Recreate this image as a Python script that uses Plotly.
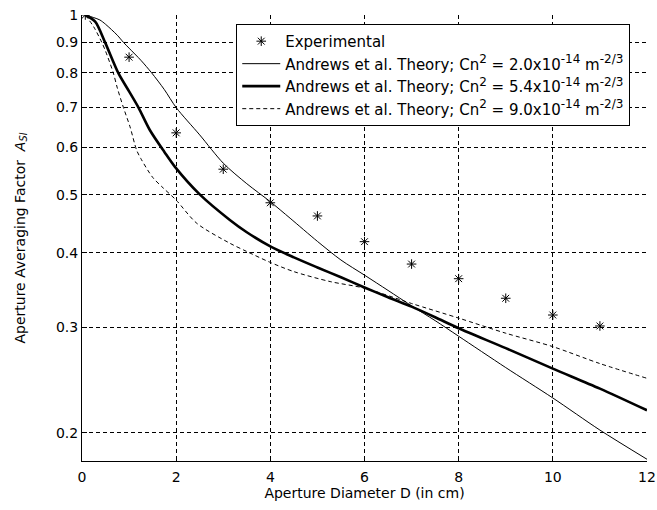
import plotly.graph_objects as go

# Experimental data
exp_x = [0.07, 1, 2, 3, 4, 5, 6, 7, 8, 9, 10, 11]
exp_y = [1.0, 0.850, 0.635, 0.552, 0.485, 0.461, 0.4175, 0.383, 0.362, 0.3357, 0.3147, 0.3017]

# Theory Cn2 = 2.0e-14
t1_x = [0.07, 0.25, 0.38, 0.5, 0.75, 0.88, 1.0, 1.25, 1.48, 1.75, 2.0, 2.5, 3.0, 3.5, 4.0, 4.42, 5.0, 5.5, 6.0, 6.5, 7.0, 7.5, 8.0, 9.0, 10.0, 11.0, 12.0]
t1_y = [1.0, 0.99, 0.981, 0.965, 0.925, 0.90, 0.88, 0.84, 0.80, 0.75, 0.70, 0.63, 0.565, 0.522, 0.487, 0.457, 0.418, 0.389, 0.367, 0.346, 0.326, 0.308, 0.290, 0.257, 0.2286, 0.202, 0.1805]

# Theory Cn2 = 5.4e-14
t2_x = [0.07, 0.28, 0.49, 0.77, 1.0, 1.2, 1.44, 1.75, 1.975, 2.5, 3.14, 3.5, 4.0, 4.5, 5.0, 5.5, 6.0, 6.5, 7.0, 7.5, 8.0, 9.0, 10.0, 11.0, 12.0]
t2_y = [1.0, 0.975, 0.90, 0.80, 0.745, 0.70, 0.642, 0.59, 0.557, 0.501, 0.454, 0.433, 0.41, 0.393, 0.378, 0.364, 0.350, 0.337, 0.325, 0.312, 0.299, 0.277, 0.256, 0.237, 0.218]

# Theory Cn2 = 9.0e-14
t3_x = [0.07, 0.25, 0.42, 0.5, 0.665, 0.75, 0.88, 1.02, 1.16, 1.25, 1.5, 1.73, 2.0, 2.44, 3.14, 3.5, 3.98, 4.5, 5.27, 6.0, 7.0, 8.0, 9.0, 10.0, 11.0, 12.0]
t3_y = [1.0, 0.955, 0.90, 0.87, 0.80, 0.755, 0.70, 0.65, 0.594, 0.575, 0.535, 0.513, 0.49, 0.448, 0.415, 0.402, 0.386, 0.372, 0.358, 0.349, 0.329, 0.311, 0.2934, 0.2786, 0.261, 0.2466]

y_ticks = [0.2, 0.3, 0.4, 0.5, 0.6, 0.7, 0.8, 0.9, 1]
y_labels = ["0.2", "0.3", "0.4", "0.5", "0.6", "0.7", "0.8", "0.9", "1"]
x_ticks = [0, 2, 4, 6, 8, 10, 12]

FONT = "DejaVu Sans"
SUP = '<sup><span style="font-size:12px">%s</span></sup>'


def theory_name(val):
    return ("Andrews et al. Theory; Cn" + SUP % "2" + " = " + val + "x10" + SUP % "-14"
            + " m" + SUP % "-2/3")


fig = go.Figure()
fig.add_trace(go.Scatter(
    x=exp_x, y=exp_y, mode="markers", name="Experimental",
    marker=dict(symbol="asterisk-open", size=8, color="black",
                line=dict(color="black", width=1))))
fig.add_trace(go.Scatter(
    x=t1_x, y=t1_y, mode="lines", line_shape="spline", name=theory_name("2.0"),
    line=dict(color="black", width=1, smoothing=0.8)))
fig.add_trace(go.Scatter(
    x=t2_x, y=t2_y, mode="lines", line_shape="spline", name=theory_name("5.4"),
    line=dict(color="black", width=2.6, smoothing=0.8)))
fig.add_trace(go.Scatter(
    x=t3_x, y=t3_y, mode="lines", line_shape="spline", name=theory_name("9.0"),
    line=dict(color="black", width=1, dash="4px,3px", smoothing=0.8)))

fig.update_layout(
    width=657, height=510,
    margin=dict(l=82, r=10, t=15, b=49, autoexpand=False),
    paper_bgcolor="white", plot_bgcolor="white",
    font=dict(family=FONT, size=14, color="black"),
    showlegend=True,
    legend=dict(x=0.273, y=0.98, xanchor="left", yanchor="top",
                bgcolor="white", bordercolor="black", borderwidth=1,
                font=dict(family=FONT, size=15, color="black"),
                itemwidth=38, tracegroupgap=0),
    xaxis=dict(range=[0, 12], tickvals=x_ticks, showline=True, linecolor="black",
               linewidth=1, ticks="inside", ticklen=5, tickcolor="black",
               showgrid=True, gridcolor="black", gridwidth=1, griddash="4px,3px",
               zeroline=False, tickfont=dict(size=14), automargin=True,
               ticklabelstandoff=3,
               title=dict(text="Aperture Diameter D (in cm)", font=dict(size=14),
                          standoff=4)),
    yaxis=dict(type="log", range=[-0.7464, 0], tickvals=y_ticks, ticktext=y_labels,
               showline=True, linecolor="black", linewidth=1, ticks="inside",
               ticklen=5, tickcolor="black", showgrid=True, gridcolor="black",
               gridwidth=1, griddash="4px,3px", zeroline=False,
               tickfont=dict(size=14), automargin=True,
               title=dict(text="Aperture Averaging Factor  <i>A</i><sub><i>SI</i></sub>",
                          font=dict(size=14), standoff=27)),
)

fig.write_html("out.html")
